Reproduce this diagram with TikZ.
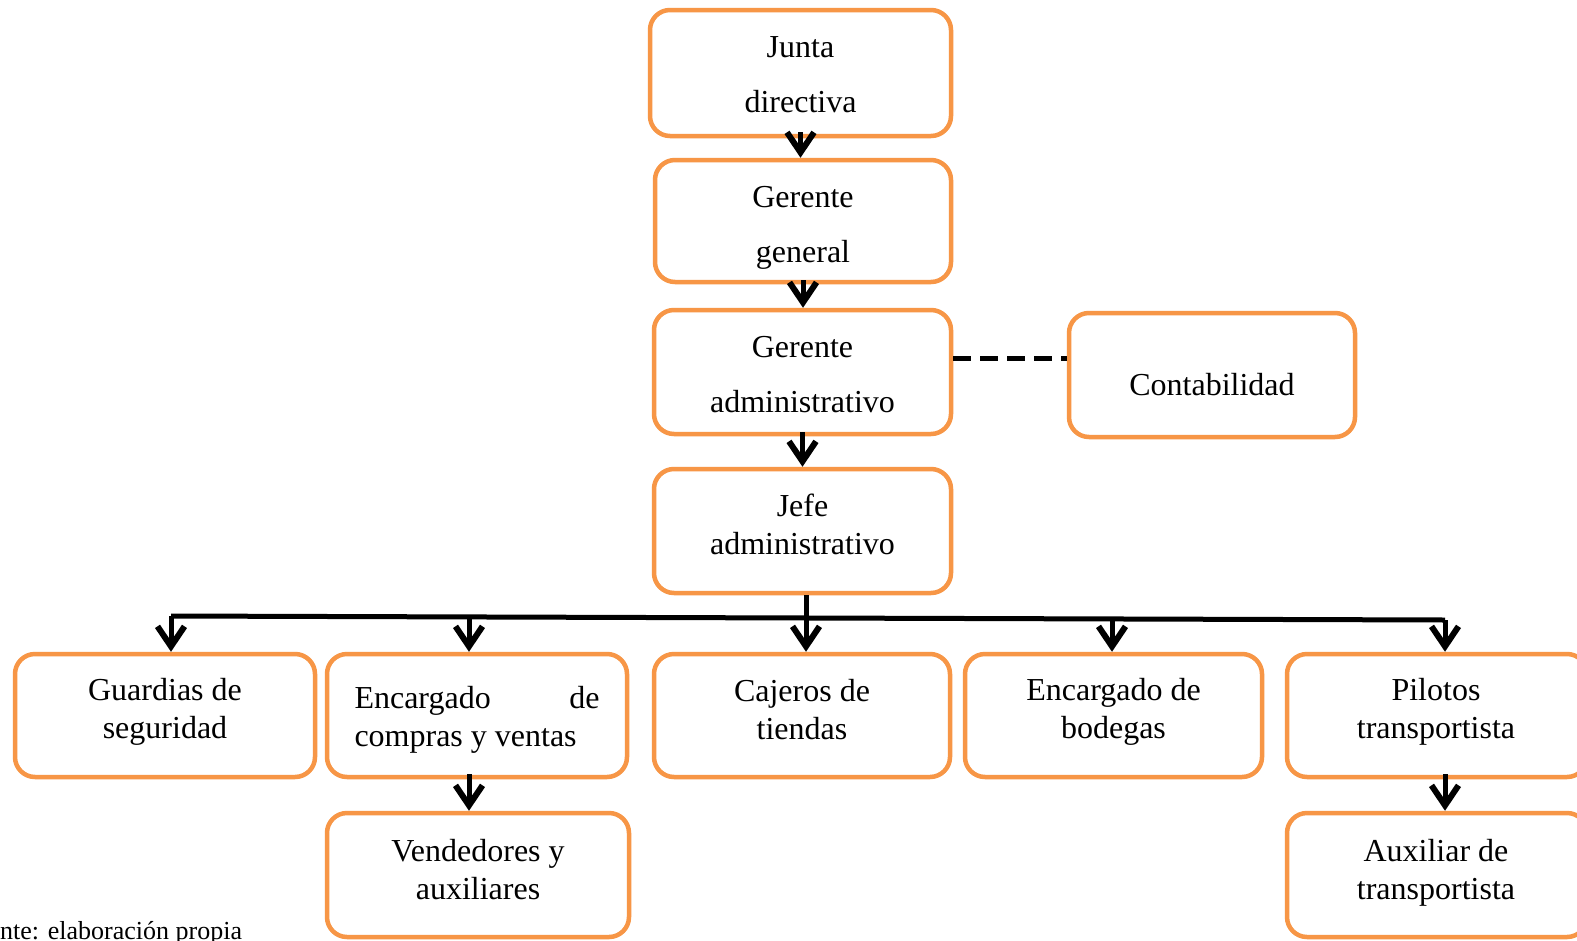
\documentclass[tikz,border=0pt]{standalone}
\usepackage{fontspec}
\setmainfont{Liberation Serif}
\usetikzlibrary{arrows.meta}
\definecolor{boxorange}{HTML}{F79646}
\begin{document}
\begin{tikzpicture}[x=1pt,y=-1pt,
  box/.style={draw=boxorange, line width=4.5pt, rounded corners=20pt, fill=white, inner sep=0pt, minimum height=124pt},
  txt/.style={align=center, font=\fontsize{32}{38}\selectfont, inner sep=0pt},
  widespace/.style={font=\fontsize{32}{55}\selectfont},
  arr/.style={line width=5pt, -{Straight Barb[length=20pt,width=27pt,line width=6pt]}},
  busline/.style={line width=5pt},
  dashline/.style={line width=5pt, dash pattern=on 18pt off 9pt}]
\useasboundingbox (0,0) rectangle (1577,940);
\clip (0,0) rectangle (1577,940);
\fill[white] (0,0) rectangle (1577,940);

% boxes
\node[box, minimum width=301pt, minimum height=126pt] (jd) at (800.5,73) {};
\node[box, minimum width=296pt, minimum height=122pt] (gg) at (803,221) {};
\node[box, minimum width=297pt] (ga) at (802.5,372) {};
\node[box, minimum width=286pt] (ct) at (1212,375) {};
\node[box, minimum width=297pt] (ja) at (802.5,531) {};
\node[box, minimum width=300pt, minimum height=123pt] (gs) at (165,715.5) {};
\node[box, minimum width=300pt, minimum height=123pt] (ec) at (477,715.5) {};
\node[box, minimum width=296pt, minimum height=123pt] (cj) at (802,715.5) {};
\node[box, minimum width=297pt, minimum height=123pt] (eb) at (1113.5,715.5) {};
\node[box, minimum width=300pt, minimum height=123pt] (pt) at (1437,715.5) {};
\node[box, minimum width=302pt] (vd) at (478,875) {};
\node[box, minimum width=300pt] (ax) at (1437,875) {};

% texts
\node[txt, widespace] (jdt) at ([yshift=-2pt]jd.center) {Junta\\directiva};
\node[txt, widespace] (ggt) at ([yshift=-7pt]gg.center) {Gerente\\general};
\node[txt, widespace] (gat) at ([yshift=-3pt]ga.center) {Gerente\\administrativo};
\node[txt] (ctt) at ([yshift=-10pt]ct.center) {Contabilidad};
\node[txt] (jat) at ([yshift=7pt]ja.center) {Jefe\\administrativo};
\node[txt] (gst) at ([yshift=4pt]gs.center) {Guardias de\\seguridad};
\node[txt, align=left] (ect) at ([yshift=-4pt]ec.center) {\makebox[245pt][s]{Encargado\hfill de}\\compras y ventas};
\node[txt] (cjt) at ([yshift=6pt]cj.center) {Cajeros de\\tiendas};
\node[txt] (ebt) at ([yshift=4pt]eb.center) {Encargado de\\bodegas};
\node[txt] (ptt) at ([yshift=4pt,xshift=-1pt]pt.center) {Pilotos\\transportista};
\node[txt] (vdt) at ([yshift=5pt]vd.center) {Vendedores y\\auxiliares};
\node[txt] (axt) at ([yshift=2pt,xshift=-1pt]ax.center) {Auxiliar de\\transportista};

% vertical chain
\draw[arr] ([yshift=6pt]jd.south) -- (jd.south |- gg.north);
\draw[arr] ([yshift=4pt]gg.south) -- (gg.south |- ga.north);
\draw[arr] ([yshift=4pt]ga.south) -- (ga.south |- ja.north);
\draw[dashline] ([yshift=14pt]ga.east) -- ([yshift=14pt]ga.east -| ct.west);

% bus
\coordinate (b0) at (806,618);
\coordinate (b1) at (171,616);
\coordinate (b2) at (469,617);
\coordinate (b3) at (806,618);
\coordinate (b4) at (1112,619);
\coordinate (b5) at (1445,620);
\draw[busline] (ja.south -| b0) -- (b0);
\draw[busline] (b1) -- (b5);
\draw[arr] (b1) -- (b1 |- gs.north);
\draw[arr] (b2) -- (b2 |- ec.north);
\draw[arr] (b3) -- (b3 |- cj.north);
\draw[arr] (b4) -- (b4 |- eb.north);
\draw[arr] (b5) -- (b5 |- pt.north);

\coordinate (e1) at (469,774);
\coordinate (p1) at (1445,774);
\draw[arr] (e1) -- (e1 |- vd.north);
\draw[arr] (p1) -- (p1 |- ax.north);

% source note
\node[anchor=base west, font=\fontsize{26}{26}\selectfont, inner sep=0pt] (src) at (0,939) {nte: elaboración propia};
\end{tikzpicture}
\end{document}
